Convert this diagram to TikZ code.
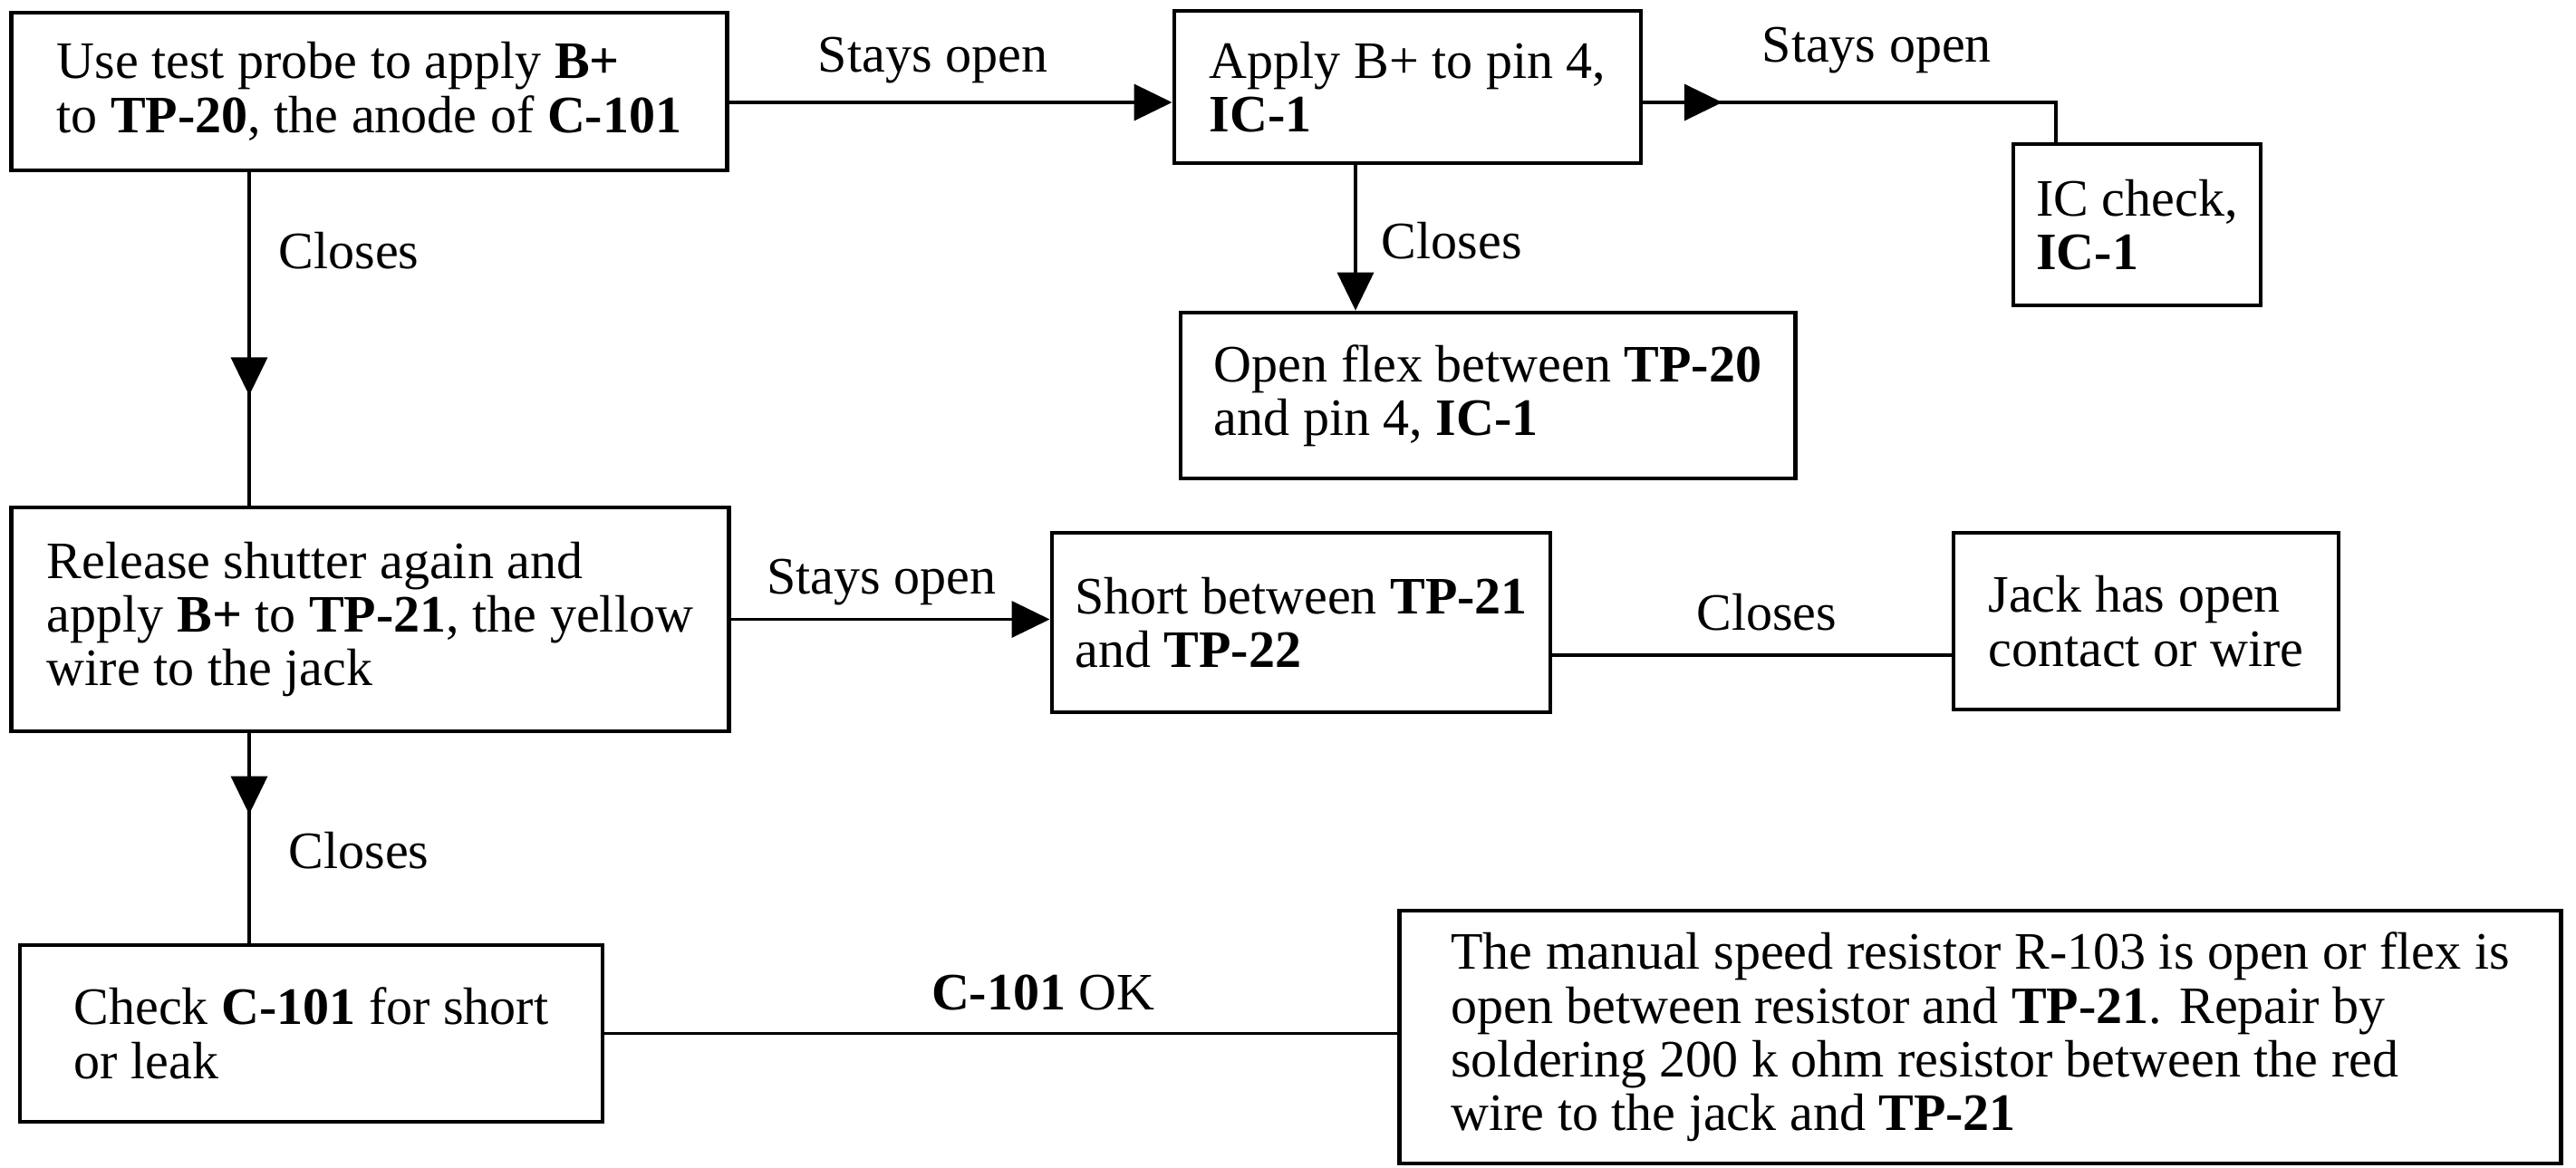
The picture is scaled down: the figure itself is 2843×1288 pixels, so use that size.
\documentclass[tikz,border=0pt]{standalone}
\usepackage{fontspec}
\setmainfont{Liberation Serif}
\usetikzlibrary{arrows.meta,decorations.markings}

\tikzset{
  box/.style={draw, line width=1.3pt, align=left, inner sep=0pt,
    font=\fontsize{16.5pt}{16.9pt}\selectfont},
  wire/.style={line width=1pt},
  arrowed/.style={-{Triangle[length=0.42cm,width=0.4cm]}},
  midtip/.style={postaction={decorate}, decoration={markings,
    mark=at position #1 with {\arrow{Triangle[length=0.42cm,width=0.4cm]}}}},
  lbl/.style={font=\fontsize{16.5pt}{16.9pt}\selectfont, inner sep=2pt}
}

\begin{document}
\begin{tikzpicture}[x=0.01cm,y=-0.01cm]
  \useasboundingbox (0,0) rectangle (2843,1288);
  % boxes
  \node[box, minimum width=7.89cm, minimum height=1.74cm] (probe) at (407.5,101)
    {Use test probe to apply \textbf{B+}\\to \textbf{TP-20}, the anode of \textbf{C-101}};
  \node[box, minimum width=5.15cm, minimum height=1.68cm] (pinfour) at (1553.5,96)
    {Apply B+ to pin 4,\\\textbf{IC-1}};
  \node[box, minimum width=2.73cm, minimum height=1.78cm] (iccheck) at (2358.5,248)
    {IC check,\\\textbf{IC-1}};
  \node[box, minimum width=6.78cm, minimum height=1.83cm] (flex) at (1642,436.5)
    {Open flex between \textbf{TP-20}\\and pin 4, \textbf{IC-1}};
  \node[box, minimum width=7.91cm, minimum height=2.47cm] (release) at (408.5,683.5)
    {Release shutter again and\\apply \textbf{B+} to \textbf{TP-21}, the yellow\\wire to the jack};
  \node[box, minimum width=5.50cm, minimum height=1.98cm] (short) at (1436,687)
    {Short between \textbf{TP-21}\\and \textbf{TP-22}};
  \node[box, minimum width=4.25cm, minimum height=1.95cm] (jack) at (2368.5,685.5)
    {Jack has open\\contact or wire};
  \node[box, minimum width=6.43cm, minimum height=1.95cm] (leak) at (343.5,1140.5)
    {Check \textbf{C-101} for short\\or leak};
  \node[box, minimum width=12.81cm, minimum height=2.79cm] (repair) at (2185.5,1144.5)
    {The manual speed resistor R-103 is open or flex is\\open between resistor and \textbf{TP-21}. Repair by\\soldering 200 k ohm resistor between the red\\wire to the jack and \textbf{TP-21}};
  % helper lines
  \coordinate (spine) at (275,0);
  \coordinate (toprow) at (0,113);
  \coordinate (down2) at (1496,0);
  \coordinate (bend) at (2269,0);
  \coordinate (jackrow) at (0,723);
  % connectors
  \draw[wire, arrowed] (probe.east |- toprow) --
    node[lbl, pos=0.46, above=0.12cm] {Stays open} (pinfour.west |- toprow);
  \draw[wire, midtip=0.175] (pinfour.east |- toprow) -|
    node[lbl, pos=0.283, above=0.23cm] {Stays open} (bend |- iccheck.north);
  \draw[wire, arrowed] (down2 |- pinfour.south) --
    node[lbl, pos=0.52, right=0.2cm] {Closes} (down2 |- flex.north);
  \draw[wire, midtip=0.67] (spine |- probe.south) --
    node[lbl, pos=0.234, right=0.24cm] {Closes} (spine |- release.north);
  \draw[wire, arrowed] (release.east) --
    node[lbl, pos=0.473, above=0.07cm] {Stays open} (release.east -| short.west);
  \draw[wire] (short.east |- jackrow) --
    node[lbl, pos=0.537, above=0.18cm] {Closes} (jack.west |- jackrow);
  \draw[wire, midtip=0.386] (spine |- release.south) --
    node[lbl, pos=0.56, right=0.35cm] {Closes} (spine |- leak.north);
  \draw[wire] (leak.east) --
    node[lbl, pos=0.553, above=0.17cm] {\textbf{C-101} OK} (leak.east -| repair.west);
\end{tikzpicture}
\end{document}
